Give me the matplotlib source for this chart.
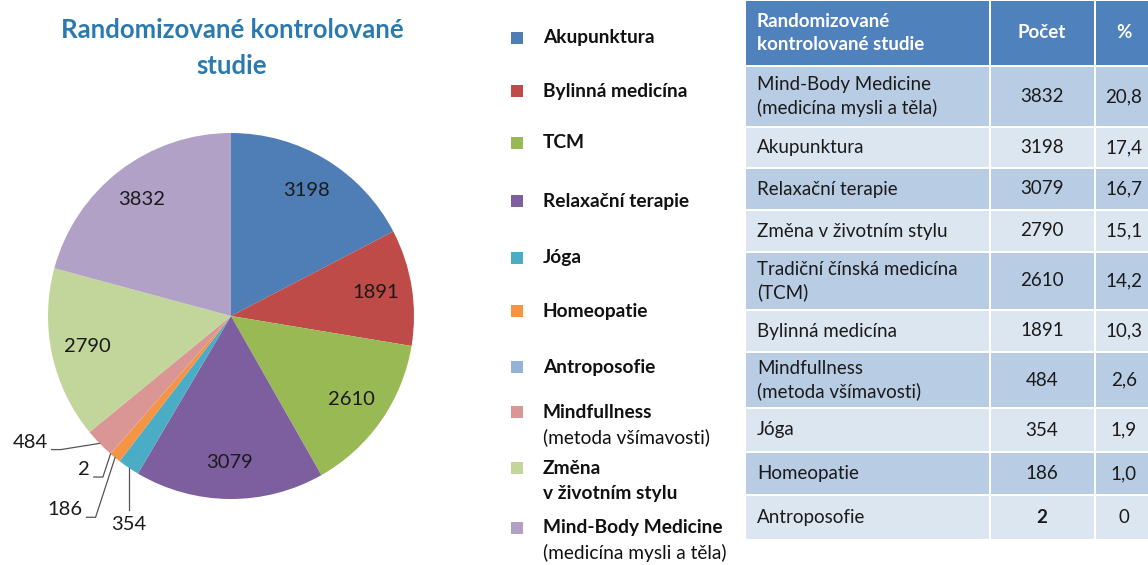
import matplotlib.pyplot as plt
from matplotlib.patches import Rectangle
import numpy as np

plt.rcParams['font.family'] = ['Lato', 'DejaVu Sans']

# pie data, clockwise from 12 o'clock
pie_names = ['Akupunktura', 'Bylinná medicína', 'TCM', 'Relaxační terapie', 'Jóga',
             'Homeopatie', 'Antroposofie', 'Mindfullness', 'Změna v životním stylu',
             'Mind-Body Medicine']
pie_values = [3198, 1891, 2610, 3079, 354, 186, 2, 484, 2790, 3832]
pie_colors = ['#4F7DB5', '#BE4B48', '#98B954', '#7D5FA0', '#4AACC5', '#F59443',
              '#95B3D7', '#D99694', '#C2D59A', '#B2A1C7']

# legend (order as in the picture)
legend_idx = [0, 1, 2, 3, 4, 5, 6, 7, 8, 9]
legend_line1 = ['Akupunktura', 'Bylinná medicína', 'TCM', 'Relaxační terapie', 'Jóga',
                'Homeopatie', 'Antroposofie', 'Mindfullness', 'Změna', 'Mind-Body Medicine']
legend_line2 = [None, None, None, None, None, None, None,
                '(metoda všímavosti)', 'v životním stylu', '(medicína mysli a těla)']
legend_bold2 = [False] * 8 + [True, False]

# table
table_header = ['Randomizované\nkontrolované studie', 'Počet', '%']
table_labels = ['Mind-Body Medicine\n(medicína mysli a těla)', 'Akupunktura',
                'Relaxační terapie', 'Změna v životním stylu',
                'Tradiční čínská medicína\n(TCM)', 'Bylinná medicína',
                'Mindfullness\n(metoda všímavosti)', 'Jóga', 'Homeopatie', 'Antroposofie']
table_counts = [3832, 3198, 3079, 2790, 2610, 1891, 484, 354, 186, 2]
table_pct = ['20,8', '17,4', '16,7', '15,1', '14,2', '10,3', '2,6', '1,9', '1,0', '0']

W, H = 1148, 565
fig = plt.figure(figsize=(W / 100, H / 100), dpi=100)

# ---- pie ----
cx, cy, R = 231, 316, 183
lim = 1.25
side = 2 * lim * R
ax = fig.add_axes([(cx - side / 2) / W, (H - cy - side / 2) / H, side / W, side / H])
wedges, _ = ax.pie(pie_values, colors=pie_colors, startangle=90, counterclock=False,
                   radius=1.0, wedgeprops=dict(linewidth=0))
ax.set_xlim(-lim, lim)
ax.set_ylim(-lim, lim)
ax.set_aspect('equal')
ax.axis('off')

lab_fs = 14.5
for w, v in zip(wedges, pie_values):
    mid = np.deg2rad((w.theta1 + w.theta2) / 2)
    ex, ey = np.cos(mid), np.sin(mid)
    if v > 1000:
        ax.text(0.8 * ex, 0.8 * ey, str(v), ha='center', va='center', fontsize=lab_fs,
                color='#1a1a1a')

# small slices with leader lines: text anchor (data units) per value
small_text = {484: (-1.0, -0.69), 2: (-0.77, -0.84), 186: (-0.81, -1.06), 354: (-0.568, -1.14)}
for w, v in zip(wedges, pie_values):
    if v in small_text:
        mid = np.deg2rad((w.theta1 + w.theta2) / 2)
        ex, ey = np.cos(mid), np.sin(mid)
        tx, ty = small_text[v]
        if v == 354:
            ax.plot([ex, ex], [ey, ty + 0.08], color='#555555', lw=0.9)
            ax.text(ex, ty, str(v), ha='center', va='center', fontsize=lab_fs, color='#1a1a1a')
        else:
            kx = tx + 0.02
            ax.plot([kx, kx + 0.05, ex], [ty - 0.04, ty - 0.04, ey], color='#555555', lw=0.9)
            ax.text(tx, ty, str(v), ha='right', va='center', fontsize=lab_fs, color='#1a1a1a')

fig.text(232 / W, 1 - 48 / H, 'Randomizované kontrolované\nstudie', ha='center', va='center',
         fontsize=18.5, fontweight='bold', color='#2A7AB0', linespacing=1.55)

# ---- legend ----
lax = fig.add_axes([0, 0, 1, 1])
lax.set_xlim(0, W)
lax.set_ylim(H, 0)
lax.axis('off')
legend_y = [38, 91, 143, 201, 258, 311, 367, 412, 468, 528]
for i, y in zip(legend_idx, legend_y):
    lax.add_patch(Rectangle((511, y - 6), 12, 12, color=pie_colors[i], lw=0))
    lax.text(543, y, legend_line1[i], ha='left', va='center', fontsize=13.8,
             fontweight='bold', color='#111111')
    if legend_line2[i]:
        lax.text(543, y + 25, legend_line2[i], ha='left', va='center', fontsize=13.8,
                 fontweight='bold' if legend_bold2[i] else 'normal', color='#111111')

# ---- table ----
col_x = [745, 990, 1095, 1170]
row_h = [66, 61, 41, 42, 42, 58, 42, 56, 44, 43, 45]
gap = 2
y0 = 0
for r, h in enumerate(row_h):
    if r == 0:
        fc = '#4F81BD'
    else:
        fc = '#B8CCE4' if r % 2 == 1 else '#DCE6F1'
    for c in range(3):
        lax.add_patch(Rectangle((col_x[c] + gap / 2, y0 + gap / 2), col_x[c + 1] - col_x[c] - gap,
                                h - gap, color=fc, lw=0))
    yc = y0 + h / 2
    if r == 0:
        vals = table_header
        kw = dict(color='white', fontweight='bold', fontsize=13.5)
    else:
        vals = [table_labels[r - 1], str(table_counts[r - 1]), table_pct[r - 1]]
        kw = dict(color='#1a1a1a', fontsize=13.5)
    lax.text(757, yc, vals[0], ha='left', va='center', linespacing=1.4, **kw)
    cnt_kw = dict(kw)
    if r == len(row_h) - 1:
        cnt_kw['fontweight'] = 'bold'
    lax.text(1042, yc, vals[1], ha='center', va='center', **cnt_kw)
    lax.text(1124, yc, vals[2], ha='center', va='center', **kw)
    y0 += h

fig.savefig('out.png', dpi=100)
